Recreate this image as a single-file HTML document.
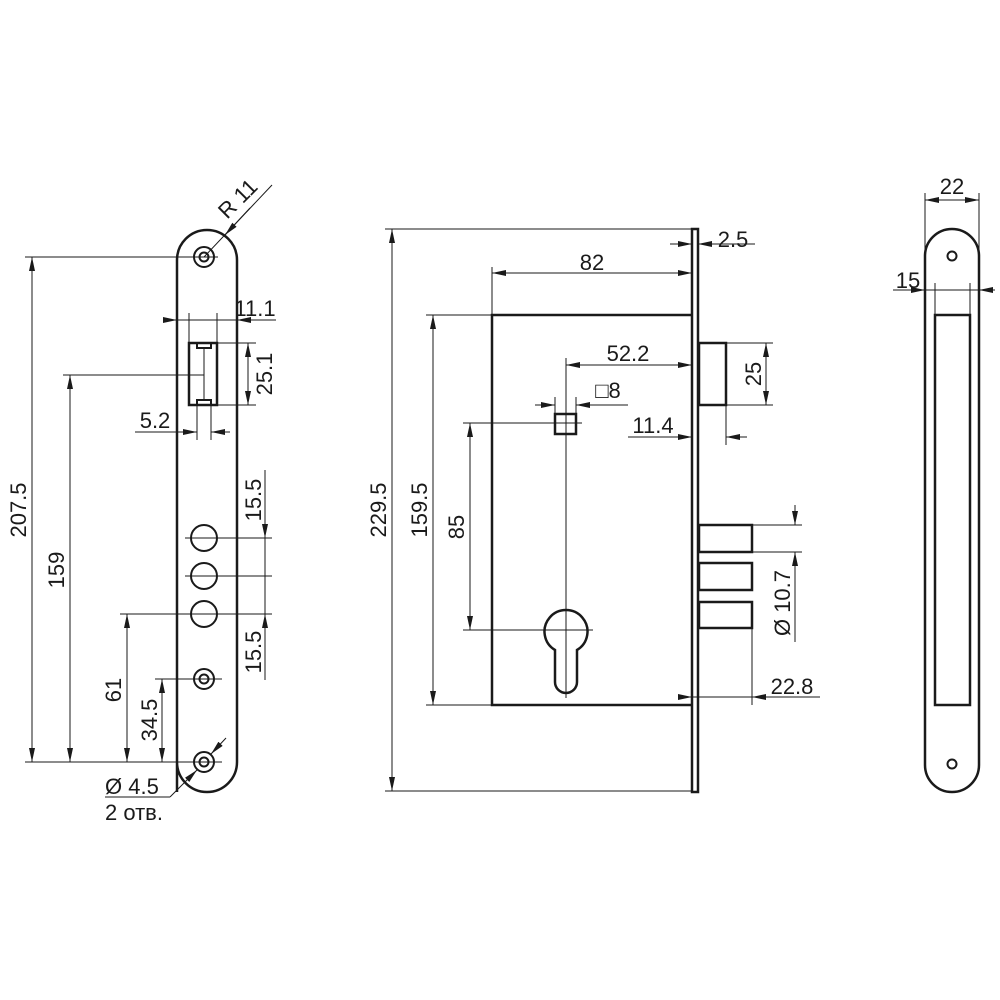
<!DOCTYPE html>
<html><head><meta charset="utf-8"><style>
html,body{margin:0;padding:0;background:#fff;}
svg{display:block;}
text{font-family:"Liberation Sans",sans-serif;font-size:22px;fill:#1a1a1a;}
</style></head><body>
<svg width="1000" height="1000" viewBox="0 0 1000 1000" xmlns="http://www.w3.org/2000/svg">
<defs>
<marker id="a" viewBox="0 0 14 6" refX="14" refY="3" markerWidth="14" markerHeight="6" orient="auto-start-reverse" markerUnits="userSpaceOnUse">
<path d="M0,0 L14,3 L0,6 Z" fill="#1a1a1a"/></marker>
</defs>
<g fill="none" stroke="#1a1a1a">
<path d="M177,792 V260 A30,30 0 0 1 237,260 V762 A30,30 0 0 1 177,762 Z" stroke-width="2.5"/>
<circle cx="204" cy="257" r="10" stroke-width="2"/><circle cx="204" cy="257" r="4.5" stroke-width="2"/>
<circle cx="204" cy="762" r="10" stroke-width="2"/><circle cx="204" cy="762" r="4.5" stroke-width="2"/>
<circle cx="204" cy="679" r="10" stroke-width="2"/><circle cx="204" cy="679" r="4.5" stroke-width="2"/>
<circle cx="204" cy="538" r="13" stroke-width="2"/>
<circle cx="204" cy="576" r="13" stroke-width="2"/>
<circle cx="204" cy="614" r="13" stroke-width="2"/>
<rect x="189" y="343" width="28" height="62" stroke-width="2.5"/>
<path d="M197,343 v5 h14 v-5 M197,405 v-5 h14 v5" stroke-width="2"/>
<g stroke-width="1">
<line x1="204" y1="348" x2="204" y2="400"/>
<line x1="25" y1="257" x2="218" y2="257"/>
<line x1="25" y1="762" x2="222" y2="762"/>
<line x1="63" y1="375" x2="204" y2="375"/>
<line x1="120" y1="614" x2="272" y2="614"/>
<line x1="155" y1="679" x2="222" y2="679"/>
<line x1="185" y1="538" x2="272" y2="538"/>
<line x1="185" y1="576" x2="272" y2="576"/>
<line x1="189" y1="313" x2="189" y2="343"/>
<line x1="217" y1="313" x2="217" y2="343"/>
<line x1="217" y1="343" x2="256" y2="343"/>
<line x1="217" y1="405" x2="256" y2="405"/>
<line x1="197" y1="405" x2="197" y2="440"/>
<line x1="211" y1="405" x2="211" y2="440"/>
<line x1="32" y1="257" x2="32" y2="762" marker-start="url(#a)" marker-end="url(#a)"/>
<line x1="70" y1="375" x2="70" y2="762" marker-start="url(#a)" marker-end="url(#a)"/>
<line x1="127" y1="614" x2="127" y2="762" marker-start="url(#a)" marker-end="url(#a)"/>
<line x1="162" y1="679" x2="162" y2="762" marker-start="url(#a)" marker-end="url(#a)"/>
<line x1="265" y1="470" x2="265" y2="538" marker-end="url(#a)"/>
<line x1="265" y1="538" x2="265" y2="614"/>
<line x1="265" y1="680" x2="265" y2="614" marker-end="url(#a)"/>
<line x1="248" y1="343" x2="248" y2="405" marker-start="url(#a)" marker-end="url(#a)"/>
<line x1="163" y1="320" x2="177" y2="320" marker-end="url(#a)"/>
<line x1="276" y1="320" x2="237" y2="320" marker-end="url(#a)"/>
<line x1="177" y1="320" x2="237" y2="320"/>
<line x1="135" y1="432" x2="197" y2="432" marker-end="url(#a)"/>
<line x1="230" y1="432" x2="211" y2="432" marker-end="url(#a)"/>
<line x1="204" y1="257" x2="272" y2="185"/>
<line x1="250" y1="208" x2="225" y2="235" marker-end="url(#a)"/>
<line x1="226" y1="738" x2="211" y2="754" marker-end="url(#a)"/>
<line x1="170" y1="797" x2="197" y2="770" marker-end="url(#a)"/>
<line x1="105" y1="797" x2="170" y2="797"/>
</g>
<rect x="692" y="229" width="6" height="563" stroke-width="2.5"/>
<path d="M692,315 H492 V705 H692" stroke-width="2.5"/>
<rect x="699" y="343" width="27" height="62" stroke-width="2.5"/>
<rect x="699" y="525" width="53" height="27" stroke-width="2.5"/>
<rect x="699" y="563" width="53" height="27" stroke-width="2.5"/>
<rect x="699" y="602" width="53" height="26" stroke-width="2.5"/>
<rect x="555" y="414" width="21" height="20" stroke-width="2.5"/>
<path d="M555,650 A21.5,21.5 0 1 1 577,650 V682 A11,11 0 0 1 555,682 Z" stroke-width="2.5"/>
<g stroke-width="1">
<line x1="566" y1="358" x2="566" y2="698"/>
<line x1="540" y1="630" x2="593" y2="630"/>
<line x1="385" y1="229" x2="692" y2="229"/>
<line x1="385" y1="791" x2="692" y2="791"/>
<line x1="426" y1="315" x2="492" y2="315"/>
<line x1="426" y1="705" x2="492" y2="705"/>
<line x1="463" y1="423" x2="582" y2="423"/>
<line x1="463" y1="630" x2="540" y2="630"/>
<line x1="492" y1="267" x2="492" y2="315"/>
<line x1="555" y1="397" x2="555" y2="414"/>
<line x1="576" y1="397" x2="576" y2="414"/>
<line x1="726" y1="405" x2="726" y2="445"/>
<line x1="726" y1="343" x2="773" y2="343"/>
<line x1="726" y1="405" x2="773" y2="405"/>
<line x1="752" y1="525" x2="802" y2="525"/>
<line x1="752" y1="552" x2="802" y2="552"/>
<line x1="752" y1="628" x2="752" y2="705"/>
<line x1="392" y1="229" x2="392" y2="791" marker-start="url(#a)" marker-end="url(#a)"/>
<line x1="433" y1="315" x2="433" y2="705" marker-start="url(#a)" marker-end="url(#a)"/>
<line x1="470" y1="423" x2="470" y2="630" marker-start="url(#a)" marker-end="url(#a)"/>
<line x1="492" y1="273" x2="692" y2="273" marker-start="url(#a)" marker-end="url(#a)"/>
<line x1="670" y1="244" x2="692" y2="244" marker-end="url(#a)"/>
<line x1="755" y1="244" x2="698" y2="244" marker-end="url(#a)"/>
<line x1="566" y1="365" x2="692" y2="365" marker-start="url(#a)" marker-end="url(#a)"/>
<line x1="535" y1="405" x2="555" y2="405" marker-end="url(#a)"/>
<line x1="628" y1="405" x2="576" y2="405" marker-end="url(#a)"/>
<line x1="628" y1="437" x2="692" y2="437" marker-end="url(#a)"/>
<line x1="747" y1="437" x2="726" y2="437" marker-end="url(#a)"/>
<line x1="766" y1="343" x2="766" y2="405" marker-start="url(#a)" marker-end="url(#a)"/>
<line x1="795" y1="505" x2="795" y2="525" marker-end="url(#a)"/>
<line x1="795" y1="642" x2="795" y2="552" marker-end="url(#a)"/>
<line x1="678" y1="697" x2="692" y2="697" marker-end="url(#a)"/>
<line x1="820" y1="697" x2="752" y2="697" marker-end="url(#a)"/>
<line x1="692" y1="697" x2="752" y2="697"/>
</g>
<path d="M925,765 V256 A27,27 0 0 1 979,256 V765 A27,27 0 0 1 925,765 Z" stroke-width="2.5"/>
<rect x="935" y="315" width="35" height="390" stroke-width="2.5"/>
<circle cx="952" cy="256" r="4.5" stroke-width="2"/>
<circle cx="952" cy="764" r="4.5" stroke-width="2"/>
<g stroke-width="1">
<line x1="925" y1="193" x2="925" y2="256"/>
<line x1="979" y1="193" x2="979" y2="256"/>
<line x1="935" y1="283" x2="935" y2="315"/>
<line x1="970" y1="283" x2="970" y2="315"/>
<line x1="925" y1="200" x2="979" y2="200" marker-start="url(#a)" marker-end="url(#a)"/>
<line x1="893" y1="290" x2="925" y2="290" marker-end="url(#a)"/>
<line x1="995" y1="290" x2="979" y2="290" marker-end="url(#a)"/>
<line x1="925" y1="290" x2="979" y2="290"/>
</g>
</g>
<text x="26" y="510" text-anchor="middle" transform="rotate(-90 26 510)">207.5</text>
<text x="64" y="570" text-anchor="middle" transform="rotate(-90 64 570)">159</text>
<text x="121" y="690" text-anchor="middle" transform="rotate(-90 121 690)">61</text>
<text x="157" y="720" text-anchor="middle" transform="rotate(-90 157 720)">34.5</text>
<text x="261" y="500" text-anchor="middle" transform="rotate(-90 261 500)">15.5</text>
<text x="261" y="652" text-anchor="middle" transform="rotate(-90 261 652)">15.5</text>
<text x="272" y="374" text-anchor="middle" transform="rotate(-90 272 374)">25.1</text>
<text x="255" y="316" text-anchor="middle">11.1</text>
<text x="155" y="428" text-anchor="middle">5.2</text>
<text x="243" y="204" text-anchor="middle" transform="rotate(-45 243 204)">R 11</text>
<text x="105" y="794">Ø 4.5</text>
<text x="105" y="820">2 отв.</text>
<text x="386" y="510" text-anchor="middle" transform="rotate(-90 386 510)">229.5</text>
<text x="427" y="510" text-anchor="middle" transform="rotate(-90 427 510)">159.5</text>
<text x="464" y="527" text-anchor="middle" transform="rotate(-90 464 527)">85</text>
<text x="592" y="270" text-anchor="middle">82</text>
<text x="733" y="247" text-anchor="middle">2.5</text>
<text x="628" y="361" text-anchor="middle">52.2</text>
<text x="608" y="398" text-anchor="middle">□8</text>
<text x="653" y="433" text-anchor="middle">11.4</text>
<text x="761" y="374" text-anchor="middle" transform="rotate(-90 761 374)">25</text>
<text x="790" y="603" text-anchor="middle" transform="rotate(-90 790 603)">Ø 10.7</text>
<text x="792" y="694" text-anchor="middle">22.8</text>
<text x="952" y="194" text-anchor="middle">22</text>
<text x="908" y="288" text-anchor="middle">15</text>
</svg>
</body></html>
